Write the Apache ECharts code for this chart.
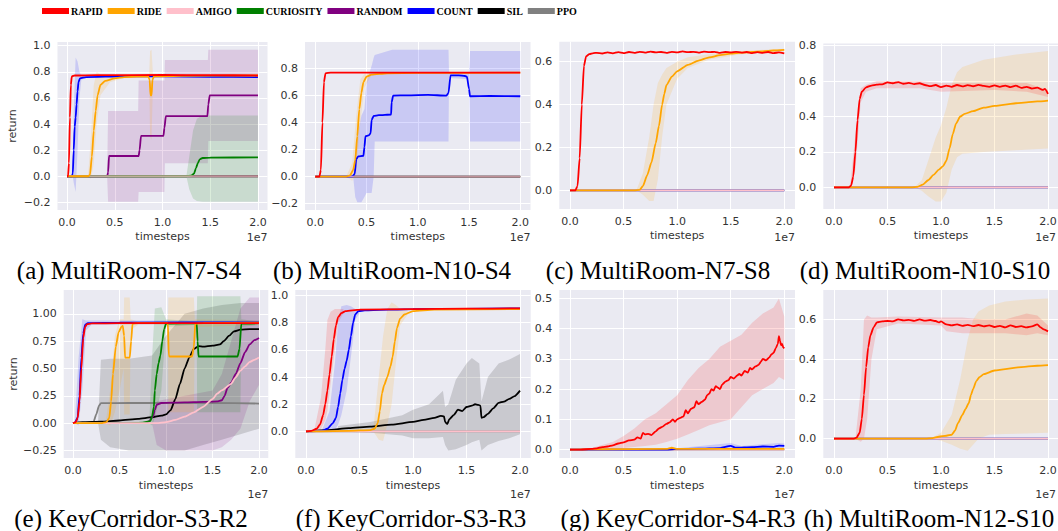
<!DOCTYPE html>
<html><head><meta charset="utf-8">
<script src="https://cdn.jsdelivr.net/npm/echarts@6/dist/echarts.min.js"></script>
<style>html,body{margin:0;padding:0;background:#fff}#c{width:1058px;height:531px}</style>
</head><body><div id="c"></div><script>
// ---------- data (x in units of 1e7 timesteps) ----------
const methods = ['RAPID','RIDE','AMIGO','CURIOSITY','RANDOM','COUNT','SIL','PPO'];
const xTicks = [0, 0.5, 1.0, 1.5, 2.0];
const captions = ['(a) MultiRoom-N7-S4','(b) MultiRoom-N10-S4','(c) MultiRoom-N7-S8','(d) MultiRoom-N10-S10',
                  '(e) KeyCorridor-S3-R2','(f) KeyCorridor-S3-R3','(g) KeyCorridor-S4-R3','(h) MultiRoom-N12-S10'];
const yTicksA = [-0.2,0,0.2,0.4,0.6,0.8,1.0];
const yTicksB = [-0.2,0,0.2,0.4,0.6,0.8];
const yTicksC = [0,0.2,0.4,0.6];
const yTicksD = [0,0.2,0.4,0.6,0.8];
const yTicksE = [-0.25,0,0.25,0.5,0.75,1.0];
const yTicksF = [0,0.2,0.4,0.6,0.8,1.0];
const yTicksG = [0,0.1,0.2,0.3,0.4,0.5];
const yTicksH = [0,0.2,0.4,0.6];
const zeroLine = [[0,0],[2,0]];

// (a) MultiRoom-N7-S4
const aRapid = [[0,0],[0.01,0],[0.02,0.1],[0.03,0.45],[0.04,0.7],[0.05,0.765],[0.08,0.772],[0.3,0.775],[1.0,0.776],[1.5,0.775],[2.0,0.772]];
const aCount = [[0,0],[0.05,0],[0.06,0.02],[0.07,0.2],[0.08,0.38],[0.09,0.45],[0.1,0.55],[0.11,0.65],[0.12,0.72],[0.135,0.75],[0.2,0.76],[0.6,0.765],[1.0,0.765],[1.5,0.762],[2.0,0.76]];
const aCountBand = [[0.06,0,0.02],[0.07,-0.05,0.5],[0.09,-0.12,0.91],[0.11,0.2,0.88],[0.13,0.6,0.8],[0.15,0.74,0.77],[0.2,0.755,0.765]];
const aRide = [[0,0],[0.22,0],[0.24,0.01],[0.26,0.15],[0.28,0.35],[0.3,0.5],[0.32,0.62],[0.35,0.7],[0.4,0.73],[0.5,0.75],[0.6,0.76],[0.85,0.765],[0.865,0.74],[0.875,0.62],[0.885,0.62],[0.895,0.74],[0.91,0.765],[1.2,0.77],[2.0,0.772]];
const aRideBand = [[0.22,0,0],[0.25,-0.02,0.3],[0.28,0.1,0.7],[0.31,0.4,0.8],[0.35,0.62,0.78],[0.45,0.72,0.77],[0.6,0.755,0.768],[0.86,0.76,0.77],[0.87,0.3,0.96],[0.885,0.28,0.97],[0.9,0.72,0.78],[0.92,0.76,0.77],[2.0,0.77,0.775]];
const aRandom = [[0,0],[0.42,0],[0.43,0.03],[0.44,0.155],[0.75,0.155],[0.76,0.2],[0.775,0.31],[1.01,0.31],[1.02,0.37],[1.035,0.46],[1.47,0.46],[1.48,0.55],[1.495,0.62],[2.0,0.62]];
const aRandomBand = [[0.42,0,0],[0.43,-0.196,0.5],[0.745,-0.196,0.5],[0.75,-0.12,0.733],[1.02,-0.12,0.733],[1.025,0.1,0.89],[1.475,0.1,0.89],[1.48,0.27,0.97],[2.0,0.27,0.97]];
const aCuriosity = [[0,0],[1.25,0],[1.3,0.005],[1.33,0.02],[1.35,0.06],[1.37,0.1],[1.39,0.13],[1.42,0.14],[1.5,0.143],[2.0,0.145]];
const aCuriosityBand = [[1.25,0,0],[1.28,-0.1,0.15],[1.32,-0.17,0.35],[1.36,-0.19,0.44],[1.42,-0.196,0.466],[2.0,-0.196,0.466]];

// (b) MultiRoom-N10-S4
const bRapid = [[0,0],[0.04,0],[0.055,0.05],[0.07,0.4],[0.085,0.7],[0.1,0.765],[0.15,0.77],[2.0,0.77]];
const bRide = [[0,0],[0.3,0],[0.34,0.01],[0.37,0.05],[0.39,0.12],[0.41,0.3],[0.43,0.5],[0.45,0.62],[0.47,0.7],[0.5,0.74],[0.55,0.755],[0.7,0.765],[1.0,0.768],[2.0,0.77]];
const bRideBand = [[0.3,0,0],[0.36,-0.03,0.1],[0.4,0.02,0.45],[0.44,0.4,0.72],[0.48,0.66,0.76],[0.55,0.75,0.77],[0.7,0.76,0.77]];
const bCount = [[0,0],[0.36,0],[0.385,0.02],[0.4,0.13],[0.42,0.15],[0.47,0.155],[0.48,0.22],[0.49,0.3],[0.52,0.305],[0.54,0.32],[0.55,0.42],[0.57,0.45],[0.62,0.455],[0.74,0.46],[0.745,0.55],[0.76,0.6],[0.9,0.602],[1.1,0.605],[1.28,0.6],[1.3,0.62],[1.32,0.75],[1.4,0.75],[1.46,0.745],[1.48,0.74],[1.5,0.65],[1.51,0.595],[1.7,0.597],[2.0,0.595]];
const bCountBand = [[0.37,0,0],[0.39,-0.15,0.15],[0.41,-0.19,0.3],[0.45,-0.19,0.45],[0.48,-0.15,0.5],[0.5,-0.12,0.7],[0.55,-0.12,0.82],[0.57,0.0,0.88],[0.58,0.26,0.9],[0.75,0.26,0.94],[1.3,0.26,0.94],[1.305,0.73,0.77],[1.5,0.72,0.77],[1.51,0.26,0.93],[2.0,0.26,0.93]];

// (c) MultiRoom-N7-S8
const cRapid = [[0,0],[0.05,0],[0.07,0.02],[0.09,0.15],[0.11,0.4],[0.13,0.58],[0.15,0.625],[0.18,0.635],[0.22,0.64],[0.25,0.641],[0.3,0.638],[0.35,0.643],[0.4,0.639],[0.45,0.644],[0.5,0.64],[0.55,0.645],[0.6,0.641],[0.65,0.646],[0.7,0.642],[0.75,0.647],[0.8,0.643],[0.85,0.645],[0.9,0.641],[0.95,0.646],[1.0,0.643],[1.05,0.648],[1.1,0.644],[1.15,0.646],[1.2,0.642],[1.25,0.647],[1.3,0.644],[1.35,0.646],[1.4,0.641],[1.45,0.645],[1.5,0.643],[1.55,0.646],[1.6,0.642],[1.65,0.645],[1.7,0.64],[1.75,0.644],[1.8,0.641],[1.85,0.645],[1.9,0.64],[1.95,0.643],[2.0,0.639]];
const cRide = [[0,0],[0.6,0],[0.65,0.002],[0.68,0.02],[0.72,0.07],[0.76,0.13],[0.8,0.22],[0.83,0.3],[0.86,0.4],[0.88,0.45],[0.9,0.49],[0.95,0.53],[1.0,0.555],[1.1,0.585],[1.2,0.605],[1.3,0.62],[1.4,0.63],[1.5,0.637],[1.6,0.642],[1.7,0.645],[1.8,0.648],[1.9,0.652],[2.0,0.655]];
const cRideBand = [[0.62,0,0],[0.68,-0.02,0.08],[0.74,-0.05,0.25],[0.78,-0.05,0.4],[0.82,0.05,0.5],[0.86,0.25,0.54],[0.9,0.4,0.57],[1.0,0.52,0.6],[1.1,0.57,0.62],[1.3,0.61,0.635],[1.6,0.635,0.65],[2.0,0.648,0.66]];

// (d) MultiRoom-N10-S10
const dRapid = [[0,0],[0.14,0],[0.16,0.01],[0.18,0.06],[0.2,0.2],[0.22,0.38],[0.24,0.5],[0.26,0.54],[0.3,0.565],[0.35,0.575],[0.4,0.58],[0.45,0.582],[0.5,0.593],[0.55,0.588],[0.6,0.594],[0.65,0.585],[0.7,0.59],[0.75,0.583],[0.8,0.588],[0.85,0.578],[0.9,0.572],[0.95,0.578],[1.0,0.566],[1.05,0.574],[1.1,0.568],[1.15,0.578],[1.2,0.57],[1.25,0.577],[1.3,0.571],[1.35,0.579],[1.4,0.573],[1.45,0.568],[1.5,0.576],[1.55,0.568],[1.6,0.575],[1.65,0.566],[1.7,0.574],[1.75,0.562],[1.8,0.568],[1.85,0.558],[1.9,0.563],[1.95,0.55],[1.97,0.556],[2.0,0.528]];
const dRapidBand = [[0.15,0,0],[0.2,0.1,0.3],[0.25,0.48,0.56],[0.3,0.54,0.58],[0.4,0.56,0.6],[0.8,0.56,0.6],[1.0,0.54,0.59],[1.5,0.55,0.59],[1.8,0.54,0.59],[2.0,0.51,0.55]];
const dRide = [[0,0],[0.72,0],[0.78,0.003],[0.83,0.015],[0.88,0.04],[0.93,0.07],[0.98,0.1],[1.02,0.12],[1.05,0.15],[1.08,0.22],[1.11,0.3],[1.14,0.36],[1.18,0.4],[1.22,0.415],[1.3,0.43],[1.4,0.45],[1.5,0.46],[1.6,0.467],[1.7,0.475],[1.8,0.48],[1.9,0.485],[2.0,0.49]];
const dRideBand = [[0.75,0,0],[0.82,-0.02,0.04],[0.88,-0.05,0.15],[0.95,-0.08,0.28],[1.0,-0.08,0.35],[1.05,-0.03,0.45],[1.1,0.1,0.58],[1.15,0.17,0.65],[1.2,0.19,0.68],[1.4,0.2,0.72],[1.7,0.21,0.75],[2.0,0.22,0.77]];

// (e) KeyCorridor-S3-R2
const eRapid = [[0,0],[0.03,0.01],[0.05,0.05],[0.07,0.2],[0.09,0.5],[0.11,0.78],[0.13,0.88],[0.15,0.905],[0.2,0.912],[0.5,0.915],[1.0,0.915],[2.0,0.915]];
const eCount = [[0,0],[0.02,0.005],[0.05,0.05],[0.07,0.25],[0.09,0.6],[0.11,0.82],[0.13,0.9],[0.16,0.915],[0.5,0.92],[2.0,0.922]];
const eCountBand = [[0.02,0,0.02],[0.06,-0.02,0.6],[0.1,0.3,0.95],[0.14,0.85,0.94],[0.2,0.9,0.94],[2.0,0.91,0.94]];
const eRide = [[0,0],[0.3,0],[0.36,0.01],[0.39,0.05],[0.41,0.2],[0.43,0.45],[0.46,0.7],[0.49,0.83],[0.52,0.88],[0.535,0.89],[0.55,0.8],[0.56,0.6],[0.61,0.6],[0.625,0.75],[0.64,0.91],[0.7,0.915],[1.02,0.915],[1.03,0.62],[1.04,0.61],[1.28,0.61],[1.3,0.7],[1.315,0.91],[1.4,0.915],[2.0,0.92]];
const eRideBand = [[0.35,0,0],[0.4,-0.02,0.3],[0.45,0.1,0.8],[0.5,0.3,0.95],[0.545,0.5,0.95],[0.55,0.08,1.15],[0.61,0.08,1.15],[0.62,0.85,0.95],[0.7,0.9,0.93],[1.02,0.9,0.93],[1.025,0.1,1.15],[1.3,0.1,1.15],[1.31,0.88,0.95],[2.0,0.9,0.94]];
const eCuriosity = [[0,0],[0.6,0],[0.75,0.005],[0.83,0.02],[0.85,0.06],[0.87,0.15],[0.88,0.3],[0.9,0.45],[0.92,0.55],[0.94,0.62],[0.96,0.75],[0.98,0.86],[1.0,0.91],[1.33,0.915],[1.34,0.75],[1.35,0.61],[1.77,0.61],[1.79,0.68],[1.81,0.91],[2.0,0.915]];
const eCuriosityBand = [[0.82,0,0],[0.85,-0.02,0.6],[0.88,0.05,1.05],[0.95,0.3,1.06],[1.0,0.88,0.95],[1.33,0.9,0.93],[1.335,0.1,1.16],[1.8,0.1,1.16],[1.81,0.88,0.95],[2.0,0.9,0.93]];
const eSil = [[0,0],[0.1,0.01],[0.3,0.015],[0.5,0.025],[0.7,0.04],[0.85,0.055],[0.95,0.07],[1.0,0.08],[1.05,0.12],[1.1,0.22],[1.15,0.36],[1.2,0.5],[1.25,0.6],[1.3,0.68],[1.35,0.705],[1.4,0.7],[1.5,0.71],[1.58,0.72],[1.62,0.75],[1.68,0.8],[1.73,0.84],[1.8,0.855],[1.9,0.86],[2.0,0.86]];
const eSilBand = [[0.27,0,0.02],[0.3,-0.15,0.58],[0.4,-0.22,0.59],[0.6,-0.25,0.59],[0.85,-0.25,0.62],[1.0,-0.25,0.8],[1.2,-0.25,1.0],[1.4,-0.2,1.05],[1.6,-0.15,1.08],[1.8,-0.1,1.1],[2.0,-0.05,1.1]];
const eRandom = [[0,0],[0.78,0],[0.82,0.02],[0.86,0.06],[0.88,0.12],[0.9,0.17],[0.95,0.185],[1.2,0.19],[1.4,0.195],[1.55,0.2],[1.6,0.21],[1.63,0.25],[1.66,0.32],[1.7,0.37],[1.75,0.45],[1.8,0.55],[1.85,0.65],[1.9,0.72],[1.95,0.76],[2.0,0.78]];
const eRandomBand = [[0.85,0,0],[0.9,-0.2,0.2],[1.0,-0.25,0.22],[1.5,-0.25,0.3],[1.6,-0.22,0.45],[1.7,-0.15,0.75],[1.8,-0.05,1.05],[1.9,0.2,1.15],[2.0,0.35,1.15]];
const eAmigo = [[0,0],[0.9,0],[1.0,0.01],[1.1,0.03],[1.2,0.06],[1.3,0.1],[1.4,0.15],[1.5,0.22],[1.55,0.27],[1.6,0.3],[1.7,0.36],[1.75,0.42],[1.8,0.48],[1.85,0.52],[1.9,0.56],[1.95,0.58],[2.0,0.6]];
const ePpo = [[0,0],[0.2,0],[0.22,0.01],[0.25,0.08],[0.28,0.16],[0.3,0.183],[0.6,0.185],[1.0,0.185],[1.5,0.185],[2.0,0.18]];

// (f) KeyCorridor-S3-R3
const fRapid = [[0,0],[0.05,0.005],[0.1,0.02],[0.13,0.05],[0.16,0.12],[0.18,0.2],[0.2,0.3],[0.22,0.42],[0.24,0.55],[0.26,0.68],[0.28,0.78],[0.3,0.84],[0.33,0.87],[0.37,0.885],[0.5,0.895],[1.0,0.9],[1.5,0.903],[2.0,0.905]];
const fRapidBand = [[0.08,0,0.02],[0.14,0.02,0.25],[0.18,0.08,0.6],[0.2,0.15,0.82],[0.23,0.35,0.88],[0.27,0.6,0.9],[0.3,0.8,0.9],[0.35,0.87,0.9]];
const fCount = [[0,0],[0.15,0.005],[0.2,0.02],[0.25,0.06],[0.28,0.1],[0.3,0.18],[0.32,0.28],[0.34,0.38],[0.36,0.46],[0.38,0.52],[0.4,0.6],[0.42,0.7],[0.44,0.8],[0.46,0.86],[0.49,0.885],[0.55,0.89],[1.0,0.9],[2.0,0.905]];
const fCountBand = [[0.15,0,0.01],[0.22,0.0,0.15],[0.27,0.01,0.5],[0.3,0.05,0.8],[0.33,0.12,0.92],[0.38,0.3,0.93],[0.42,0.55,0.92],[0.46,0.82,0.9],[0.5,0.87,0.9]];
const fRide = [[0,0],[0.4,0.005],[0.6,0.01],[0.64,0.02],[0.67,0.06],[0.69,0.15],[0.71,0.28],[0.73,0.34],[0.76,0.4],[0.79,0.48],[0.81,0.55],[0.83,0.66],[0.85,0.76],[0.88,0.83],[0.92,0.86],[1.0,0.885],[1.2,0.895],[2.0,0.9]];
const fRideBand = [[0.63,0,0.02],[0.68,-0.06,0.4],[0.72,-0.07,0.7],[0.76,0.05,0.9],[0.8,0.2,0.95],[0.84,0.5,0.93],[0.88,0.78,0.9],[0.95,0.86,0.9]];
const fSil = [[0,0],[0.2,0.01],[0.4,0.025],[0.6,0.035],[0.8,0.05],[1.0,0.07],[1.1,0.085],[1.2,0.1],[1.26,0.115],[1.29,0.11],[1.3,0.07],[1.32,0.055],[1.34,0.09],[1.38,0.12],[1.42,0.16],[1.46,0.15],[1.5,0.18],[1.55,0.19],[1.58,0.2],[1.61,0.195],[1.63,0.19],[1.64,0.1],[1.66,0.105],[1.7,0.13],[1.75,0.17],[1.8,0.21],[1.85,0.22],[1.9,0.24],[1.95,0.26],[2.0,0.3]];
const fSilBand = [[0.3,0.0,0.04],[0.6,-0.01,0.07],[0.9,-0.03,0.12],[1.0,-0.05,0.16],[1.15,-0.05,0.2],[1.28,-0.04,0.3],[1.3,-0.1,0.18],[1.33,-0.14,0.2],[1.4,-0.13,0.38],[1.5,-0.1,0.5],[1.55,-0.08,0.54],[1.62,-0.06,0.5],[1.64,-0.14,0.22],[1.7,-0.1,0.4],[1.8,-0.07,0.5],[1.9,-0.05,0.53],[2.0,-0.02,0.57]];

// (g) KeyCorridor-S4-R3
const gRapid = [[0,0],[0.1,0],[0.2,0.002],[0.25,0.004],[0.3,0.008],[0.35,0.01],[0.4,0.014],[0.45,0.02],[0.5,0.024],[0.55,0.03],[0.6,0.033],[0.63,0.04],[0.66,0.036],[0.68,0.055],[0.7,0.05],[0.73,0.052],[0.76,0.048],[0.8,0.06],[0.83,0.07],[0.86,0.075],[0.9,0.085],[0.93,0.09],[0.96,0.1],[0.98,0.092],[1.0,0.1],[1.03,0.105],[1.06,0.11],[1.08,0.13],[1.1,0.12],[1.13,0.135],[1.16,0.14],[1.18,0.16],[1.2,0.15],[1.23,0.158],[1.26,0.165],[1.28,0.18],[1.3,0.185],[1.32,0.2],[1.34,0.195],[1.36,0.21],[1.38,0.205],[1.4,0.2],[1.42,0.215],[1.45,0.225],[1.48,0.23],[1.5,0.24],[1.53,0.235],[1.56,0.245],[1.58,0.25],[1.6,0.245],[1.63,0.26],[1.66,0.255],[1.68,0.27],[1.7,0.265],[1.73,0.275],[1.76,0.28],[1.78,0.29],[1.8,0.3],[1.83,0.295],[1.86,0.305],[1.88,0.315],[1.9,0.32],[1.92,0.335],[1.94,0.35],[1.95,0.375],[1.96,0.36],[1.97,0.345],[1.98,0.35],[1.99,0.338],[2.0,0.335]];
const gRapidBand = [[0.2,0,0.005],[0.4,0.002,0.025],[0.5,0.005,0.045],[0.6,0.008,0.07],[0.7,0.012,0.1],[0.8,0.016,0.12],[0.9,0.025,0.15],[1.0,0.036,0.18],[1.1,0.05,0.23],[1.2,0.065,0.27],[1.3,0.08,0.3],[1.4,0.09,0.34],[1.5,0.1,0.36],[1.6,0.14,0.38],[1.7,0.18,0.42],[1.8,0.2,0.45],[1.9,0.22,0.47],[1.95,0.24,0.5],[2.0,0.23,0.44]];
const gCount = [[0,0],[0.9,0],[1.0,0.002],[1.2,0.003],[1.4,0.005],[1.5,0.012],[1.55,0.006],[1.7,0.008],[1.8,0.01],[1.9,0.009],[1.95,0.013],[2.0,0.012]];
const gCountBand = [[1.0,0,0.004],[1.5,0,0.022],[1.6,0,0.012],[1.95,0,0.022],[2.0,0,0.02]];
const gRide = [[0,0],[0.3,0.001],[0.9,0.002],[0.95,0.006],[1.0,0.002],[2.0,0.002]];

// (h) MultiRoom-N12-S10
const hRapid = [[0,0],[0.18,0],[0.21,0.005],[0.24,0.03],[0.26,0.1],[0.28,0.22],[0.3,0.36],[0.32,0.46],[0.34,0.52],[0.37,0.56],[0.4,0.585],[0.45,0.59],[0.5,0.592],[0.55,0.59],[0.6,0.6],[0.65,0.595],[0.7,0.598],[0.75,0.593],[0.8,0.6],[0.85,0.594],[0.9,0.597],[0.95,0.592],[0.98,0.585],[1.0,0.59],[1.05,0.575],[1.1,0.57],[1.15,0.575],[1.2,0.568],[1.25,0.573],[1.3,0.566],[1.35,0.572],[1.4,0.565],[1.45,0.57],[1.5,0.562],[1.55,0.568],[1.6,0.56],[1.65,0.57],[1.7,0.562],[1.75,0.566],[1.8,0.56],[1.85,0.565],[1.9,0.575],[1.93,0.56],[1.96,0.55],[2.0,0.54]];
const hRapidBand = [[0.2,0,0.0],[0.25,-0.015,0.25],[0.28,0.0,0.6],[0.31,0.1,0.62],[0.35,0.4,0.61],[0.4,0.55,0.61],[0.6,0.58,0.615],[1.0,0.57,0.61],[1.05,0.54,0.61],[1.2,0.53,0.61],[1.4,0.53,0.6],[1.6,0.53,0.6],[1.8,0.52,0.63],[1.9,0.53,0.62],[2.0,0.52,0.57]];
const hRide = [[0,0],[0.85,0],[0.92,0.003],[0.98,0.01],[1.05,0.015],[1.1,0.02],[1.13,0.04],[1.16,0.08],[1.2,0.12],[1.23,0.15],[1.26,0.18],[1.28,0.22],[1.3,0.25],[1.33,0.29],[1.36,0.31],[1.4,0.325],[1.5,0.343],[1.6,0.35],[1.7,0.358],[1.8,0.363],[1.9,0.367],[2.0,0.37]];
const hRideBand = [[0.9,0,0],[1.0,-0.01,0.03],[1.1,-0.03,0.12],[1.18,-0.05,0.3],[1.25,-0.06,0.5],[1.3,-0.03,0.6],[1.35,0.0,0.64],[1.45,0.02,0.67],[1.6,0.024,0.69],[1.8,0.026,0.7],[2.0,0.03,0.705]];

// ---------- panel assembly ----------
const panels = [
  {yTicks: yTicksA, yRange: [-0.2585, 1.0285], dec: 1, yName: 'return', amigoAlpha: 0.75,
   lines: {PPO: zeroLine, SIL: zeroLine, RANDOM: aRandom, CURIOSITY: aCuriosity, COUNT: aCount, AMIGO: zeroLine, RIDE: aRide, RAPID: aRapid},
   bands: [['RANDOM', aRandomBand], ['CURIOSITY', aCuriosityBand], ['COUNT', aCountBand], ['RIDE', aRideBand]]},
  {yTicks: yTicksB, yRange: [-0.2465, 0.9965], dec: 1, amigoAlpha: 0.75,
   lines: {PPO: zeroLine, SIL: zeroLine, COUNT: bCount, AMIGO: zeroLine, RIDE: bRide, RAPID: bRapid},
   bands: [['COUNT', bCountBand], ['RIDE', bRideBand]]},
  {yTicks: yTicksC, yRange: [-0.087, 0.693], dec: 1,
   lines: {COUNT: zeroLine, PPO: zeroLine, AMIGO: zeroLine, RIDE: cRide, RAPID: cRapid},
   bands: [['RIDE', cRideBand]]},
  {yTicks: yTicksD, yRange: [-0.1225, 0.8125], dec: 1,
   lines: {COUNT: zeroLine, PPO: zeroLine, AMIGO: zeroLine, RIDE: dRide, RAPID: dRapid},
   bands: [['RIDE', dRideBand], ['RAPID', dRapidBand]]},
  {yTicks: yTicksE, yRange: [-0.318, 1.218], dec: 2, yName: 'return',
   lines: {PPO: ePpo, SIL: eSil, RANDOM: eRandom, CURIOSITY: eCuriosity, COUNT: eCount, AMIGO: eAmigo, RIDE: eRide, RAPID: eRapid},
   bands: [['SIL', eSilBand], ['RANDOM', eRandomBand], ['CURIOSITY', eCuriosityBand], ['RIDE', eRideBand], ['COUNT', eCountBand]]},
  {yTicks: yTicksF, yRange: [-0.195, 1.04], dec: 1,
   lines: {PPO: zeroLine, SIL: fSil, COUNT: fCount, AMIGO: zeroLine, RIDE: fRide, RAPID: fRapid},
   bands: [['SIL', fSilBand], ['COUNT', fCountBand], ['RIDE', fRideBand], ['RAPID', fRapidBand]]},
  {yTicks: yTicksG, yRange: [-0.028, 0.528], dec: 1,
   lines: {PPO: zeroLine, AMIGO: zeroLine, COUNT: gCount, RIDE: gRide, RAPID: gRapid},
   bands: [['COUNT', gCountBand], ['RAPID', gRapidBand]]},
  {yTicks: yTicksH, yRange: [-0.097, 0.748], dec: 1,
   lines: {COUNT: zeroLine, PPO: zeroLine, AMIGO: zeroLine, RIDE: hRide, RAPID: hRapid},
   bands: [['RIDE', hRideBand], ['RAPID', hRapidBand]]}
];

// ---------- styling / layout ----------
const COLORS = {RAPID:'#ff0000', RIDE:'#ffa500', AMIGO:'#ffc0cb', CURIOSITY:'#008000', RANDOM:'#800080', COUNT:'#0000ff', SIL:'#000000', PPO:'#808080'};
const gridBoxes = [
  {left:57.5, top:42, width:210, height:168},
  {left:305, top:42, width:225.5, height:168},
  {left:559.3, top:41.7, width:235.7, height:167.3},
  {left:823.3, top:43.5, width:235.4, height:165.5},
  {left:63.7, top:290, width:204.6, height:168},
  {left:295.3, top:290, width:235.4, height:168},
  {left:559.3, top:290, width:235.7, height:168},
  {left:823.3, top:290, width:235.4, height:168}
];
const captionCenters = [[129,270],[392,270],[658,270],[925,270],[131,518],[411,518],[678,518],[929,518]];
const expoY = [237, 237, 237, 237, 494, 494, 494, 494];
const TXT = '#333333';
const FONT = '"DejaVu Sans", sans-serif';

const grids = [], xAxes = [], yAxes = [], series = [], graphics = [];
const fmt = (v, d) => v.toFixed(d).replace('-', '\u2212');

// legend-key series (no data): give the legend plain colour swatches
methods.forEach(m => series.push({type: 'bar', name: m, xAxisIndex: 0, yAxisIndex: 0, data: [],
  itemStyle: {color: COLORS[m]}, color: COLORS[m]}));

panels.forEach((p, i) => {
  const g = gridBoxes[i];
  grids.push({left: g.left, top: g.top, width: g.width, height: g.height, show: true,
    backgroundColor: '#EAEAF2', borderWidth: 0, containLabel: false, outerBoundsMode: 'none'});
  xAxes.push({type: 'value', gridIndex: i, min: -0.1, max: 2.1,
    name: 'timesteps', nameLocation: 'middle', nameGap: i < 4 ? 21 : 22,
    nameTextStyle: {color: TXT, fontSize: 11, fontFamily: FONT},
    axisLine: {show: false}, axisTick: {show: false, customValues: xTicks},
    axisLabel: {customValues: xTicks, color: TXT, fontSize: 11, fontFamily: FONT, margin: 7,
      formatter: v => fmt(v, 1)},
    splitLine: {show: true, lineStyle: {color: '#ffffff', width: 1}}});
  yAxes.push({type: 'value', gridIndex: i, min: p.yRange[0], max: p.yRange[1],
    name: p.yName || '', nameLocation: 'middle', nameGap: 40, nameRotate: 90,
    nameTextStyle: {color: TXT, fontSize: 11, fontFamily: FONT},
    axisLine: {show: false}, axisTick: {show: false, customValues: p.yTicks},
    axisLabel: {customValues: p.yTicks, color: TXT, fontSize: 11, fontFamily: FONT, margin: 7,
      formatter: v => fmt(v, p.dec)},
    splitLine: {show: true, lineStyle: {color: '#ffffff', width: 1}}});

  p.bands.forEach(([m, pts]) => {
    series.push({type: 'custom', name: m + ' band', xAxisIndex: i, yAxisIndex: i, silent: true, clip: true, z: 1,
      data: pts, encode: {x: 0, y: [1, 2]},
      renderItem: (params, api) => {
        if (params.dataIndex !== 0) return null;
        const up = pts.map(q => api.coord([q[0], q[2]]));
        const lo = pts.map(q => api.coord([q[0], q[1]])).reverse();
        return {type: 'polygon', shape: {points: up.concat(lo)},
          style: {fill: COLORS[m], opacity: 0.14, stroke: null}};
      }});
  });

  Object.keys(p.lines).forEach((m, k) => {
    const alpha = (m === 'AMIGO' && p.amigoAlpha) ? p.amigoAlpha : 1;
    series.push({type: 'line', name: m, xAxisIndex: i, yAxisIndex: i, data: p.lines[m],
      showSymbol: false, symbol: 'none', smooth: 0.2, smoothMonotone: 'x', clip: true, silent: true,
      color: COLORS[m], z: 3 + k,
      lineStyle: {color: COLORS[m], width: 1.8, opacity: alpha},
      itemStyle: {color: COLORS[m]}});
  });

  graphics.push({type: 'text', x: captionCenters[i][0], y: captionCenters[i][1],
    style: {text: captions[i], font: '25px "Liberation Serif", serif', fill: '#000', align: 'center', verticalAlign: 'middle'}});
  graphics.push({type: 'text', x: Math.min(g.left + g.width, 1056), y: expoY[i],
    style: {text: '1e7', font: '11px ' + FONT, fill: TXT, align: 'right', verticalAlign: 'middle'}});
});

const chart = echarts.init(document.getElementById('c'), null, {renderer: 'svg'});
chart.setOption({
  animation: false,
  backgroundColor: '#ffffff',
  legend: {data: methods, left: 42, top: 6, padding: 0, icon: 'rect', itemWidth: 27, itemHeight: 6, itemGap: 5,
    selectedMode: false,
    textStyle: {fontFamily: '"Liberation Serif", serif', fontWeight: 'bold', fontSize: 10, color: '#000', padding: [0, 0, 0, -3]}},
  grid: grids, xAxis: xAxes, yAxis: yAxes, series: series, graphic: graphics
});
</script></body></html>
